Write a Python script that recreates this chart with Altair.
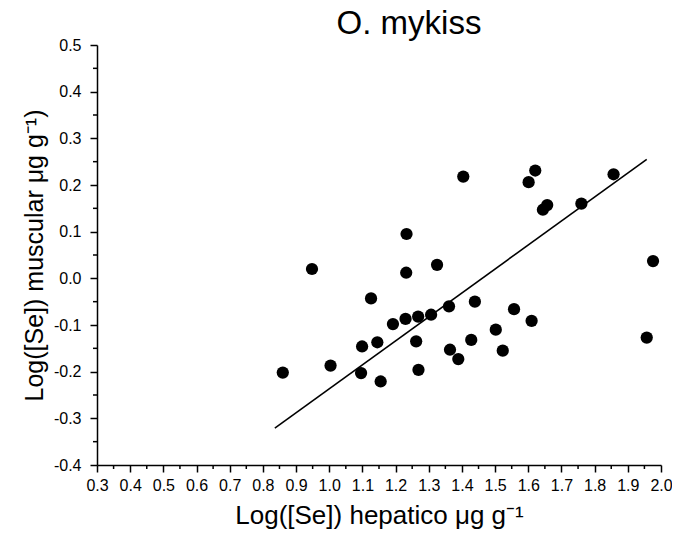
import altair as alt
import pandas as pd

# data
x_vals = [0.860, 0.948, 1.004, 1.096, 1.099, 1.126, 1.145, 1.155, 1.192, 1.232,
          1.230, 1.233, 1.268, 1.262, 1.269, 1.307, 1.325, 1.361, 1.364, 1.389,
          1.404, 1.428, 1.439, 1.502, 1.523, 1.557, 1.601, 1.610, 1.621, 1.644,
          1.657, 1.760, 1.857, 1.957, 1.976]
y_vals = [-0.202, 0.020, -0.187, -0.203, -0.146, -0.043, -0.137, -0.221, -0.098, 0.012,
          -0.087, 0.095, -0.082, -0.135, -0.196, -0.078, 0.029, -0.060, -0.153, -0.173,
          0.218, -0.132, -0.050, -0.110, -0.155, -0.066, 0.206, -0.091, 0.231, 0.147,
          0.157, 0.160, 0.223, -0.127, 0.037]
fit_x = [0.836, 1.957]
fit_y = [-0.321, 0.255]
x_major = [round(0.3 + 0.1 * i, 2) for i in range(18)]
y_major = [round(-0.4 + 0.1 * i, 2) for i in range(10)]
x_minor = [round(0.35 + 0.1 * i, 2) for i in range(17)]
y_minor = [round(-0.35 + 0.1 * i, 2) for i in range(9)]

W, H = 564, 420
FONT = "Liberation Sans"
label_expr = "(datum.value < -1e-9 ? '-' : '') + format(abs(datum.value), '.1f')"

xscale = alt.Scale(domain=[0.3, 2.0], nice=False, zero=False)
yscale = alt.Scale(domain=[-0.4, 0.5], nice=False, zero=False)

pts = pd.DataFrame({"x": x_vals, "y": y_vals})
fit = pd.DataFrame({"x": fit_x, "y": fit_y})
xm = pd.DataFrame({"v": x_minor})
ym = pd.DataFrame({"v": y_minor})

xaxis = alt.Axis(title="Log([Se]) hepatico μg g⁻¹", values=x_major, labelExpr=label_expr,
                 grid=False, tickSize=7, tickWidth=1.5, tickColor="black",
                 domainColor="black", domainWidth=1.5, labelFont=FONT, labelFontSize=16,
                 labelColor="black", labelPadding=5, titleFont=FONT, titleFontSize=26,
                 titleFontWeight="normal", titleColor="black", titlePadding=9,
                 labelFlush=False, labelOverlap=False)
yaxis = alt.Axis(title="Log([Se]) muscular μg g⁻¹)", values=y_major, labelExpr=label_expr,
                 grid=False, tickSize=7, tickWidth=1.5, tickColor="black",
                 domainColor="black", domainWidth=1.5, labelFont=FONT, labelFontSize=16,
                 labelColor="black", labelPadding=9, titleFont=FONT, titleFontSize=25,
                 titleFontWeight="normal", titleColor="black", titlePadding=6,
                 labelFlush=False, labelOverlap=False)

points = alt.Chart(pts).mark_circle(size=150, color="black", opacity=1).encode(
    x=alt.X("x:Q", scale=xscale, axis=xaxis),
    y=alt.Y("y:Q", scale=yscale, axis=yaxis),
)
line = alt.Chart(fit).mark_line(color="black", strokeWidth=1.6).encode(
    x=alt.X("x:Q", scale=xscale, axis=xaxis),
    y=alt.Y("y:Q", scale=yscale, axis=yaxis),
)
xminor = alt.Chart(xm).mark_rule(color="black", strokeWidth=1.5).encode(
    x=alt.X("v:Q", scale=xscale, axis=xaxis),
    y=alt.value(H), y2=alt.value(H + 4),
)
yminor = alt.Chart(ym).mark_rule(color="black", strokeWidth=1.5).encode(
    y=alt.Y("v:Q", scale=yscale, axis=yaxis),
    x=alt.value(0), x2=alt.value(-4),
)

chart = alt.layer(points, line, xminor, yminor).properties(
    width=W, height=H,
    background="white",
    title=alt.TitleParams("O. mykiss", font=FONT, fontSize=33, fontWeight="normal",
                          color="black", anchor="middle", dx=30, offset=-4),
    autosize=alt.AutoSizeParams(type="none"),
    padding={"left": 89, "top": 37, "right": 11, "bottom": 67},
).configure_view(stroke=None).configure_axis(labelOverlap=False)

chart.save("out.html", embed_options={"renderer": "svg", "actions": False})
